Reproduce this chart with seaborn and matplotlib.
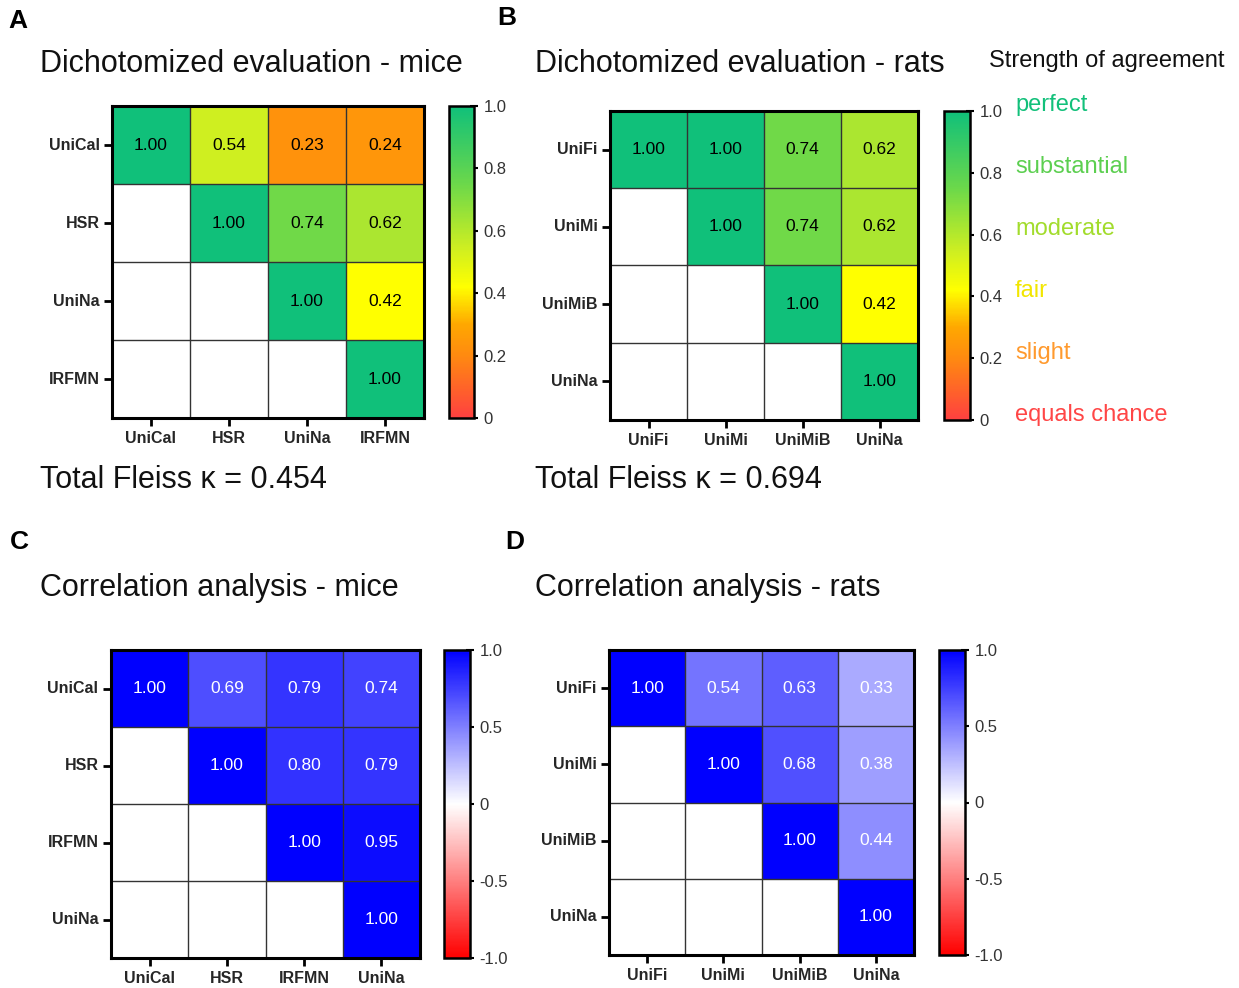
import matplotlib
matplotlib.use("Agg")
import matplotlib.pyplot as plt
import numpy as np
import pandas as pd
import seaborn as sns
from matplotlib.colors import LinearSegmentedColormap

sns.set_theme(style="white")
plt.rcParams["font.family"] = ["Liberation Sans", "DejaVu Sans"]

# panel data (upper triangle only, lower triangle left empty)
mice_kappa_labels = ["UniCal", "HSR", "UniNa", "IRFMN"]
mice_kappa = [
    [1.00, 0.54, 0.23, 0.24],
    [np.nan, 1.00, 0.74, 0.62],
    [np.nan, np.nan, 1.00, 0.42],
    [np.nan, np.nan, np.nan, 1.00],
]
rats_kappa_labels = ["UniFi", "UniMi", "UniMiB", "UniNa"]
rats_kappa = [
    [1.00, 1.00, 0.74, 0.62],
    [np.nan, 1.00, 0.74, 0.62],
    [np.nan, np.nan, 1.00, 0.42],
    [np.nan, np.nan, np.nan, 1.00],
]
mice_corr_labels = ["UniCal", "HSR", "IRFMN", "UniNa"]
mice_corr = [
    [1.00, 0.69, 0.79, 0.74],
    [np.nan, 1.00, 0.80, 0.79],
    [np.nan, np.nan, 1.00, 0.95],
    [np.nan, np.nan, np.nan, 1.00],
]
rats_corr_labels = ["UniFi", "UniMi", "UniMiB", "UniNa"]
rats_corr = [
    [1.00, 0.54, 0.63, 0.33],
    [np.nan, 1.00, 0.68, 0.38],
    [np.nan, np.nan, 1.00, 0.44],
    [np.nan, np.nan, np.nan, 1.00],
]
fleiss_mice = 0.454
fleiss_rats = 0.694

agreement_labels = ["perfect", "substantial", "moderate", "fair", "slight", "equals chance"]
agreement_colors = ["#12c07a", "#5ccf50", "#a2dc2c", "#f2e600", "#ff9a2e", "#ff4646"]

kappa_cmap = LinearSegmentedColormap.from_list(
    "kappa",
    [(0.0, "#ff4040"), (0.2, "#ff8a10"), (0.3, "#ffa800"), (0.42, "#ffff00"),
     (0.55, "#ccee22"), (0.75, "#6cd84a"), (1.0, "#10c07a")],
)
corr_cmap = LinearSegmentedColormap.from_list(
    "corr", [(0.0, "#ff0000"), (0.5, "#ffffff"), (1.0, "#0000ff")]
)

W, H = 1239, 988
fig = plt.figure(figsize=(W / 100, H / 100), dpi=100)


def box(x0, y0, x1, y1):
    return [x0 / W, 1 - y1 / H, (x1 - x0) / W, (y1 - y0) / H]


def draw_panel(values, labels, hm_box, cb_box, cmap, vmin, vmax, ticks, ticklabels, text_color):
    ax = fig.add_axes(box(*hm_box))
    cax = fig.add_axes(box(*cb_box))
    df = pd.DataFrame(values, index=labels, columns=labels)
    sns.heatmap(df, ax=ax, cbar_ax=cax, cmap=cmap, vmin=vmin, vmax=vmax,
                annot=True, fmt=".2f", square=False,
                annot_kws={"fontsize": 12.5, "color": text_color})
    n = len(labels)
    ax.hlines(range(1, n), 0, n, color="#333333", lw=1)
    ax.vlines(range(1, n), 0, n, color="#333333", lw=1)
    for s in ax.spines.values():
        s.set_visible(True)
        s.set_linewidth(2.2)
        s.set_color("black")
    ax.tick_params(axis="both", length=6, width=2, color="black", left=True, bottom=True,
                   labelsize=11.5, pad=3)
    ax.set_xticklabels(labels, rotation=0, fontweight="bold")
    ax.set_yticklabels(labels, rotation=0, fontweight="bold")
    ax.set_xlabel("")
    ax.set_ylabel("")
    cb = ax.collections[0].colorbar
    cb.set_ticks(ticks)
    cb.set_ticklabels(ticklabels)
    cb.outline.set_visible(True)
    cb.outline.set_linewidth(1.8)
    cb.outline.set_edgecolor("black")
    cax.tick_params(axis="y", direction="inout", length=6, width=1.5, labelsize=12,
                    colors="black", pad=4)
    for t in cax.get_yticklabels():
        t.set_color("#333333")
    return ax


kappa_ticks = [0, 0.2, 0.4, 0.6, 0.8, 1.0]
kappa_ticklabels = ["0", "0.2", "0.4", "0.6", "0.8", "1.0"]
corr_ticks = [-1.0, -0.5, 0, 0.5, 1.0]
corr_ticklabels = ["-1.0", "-0.5", "0", "0.5", "1.0"]

draw_panel(mice_kappa, mice_kappa_labels, (112, 106, 424, 418), (449, 106, 474, 418),
           kappa_cmap, 0, 1, kappa_ticks, kappa_ticklabels, "black")
draw_panel(rats_kappa, rats_kappa_labels, (610, 111, 918, 420), (944, 111, 970, 420),
           kappa_cmap, 0, 1, kappa_ticks, kappa_ticklabels, "black")
draw_panel(mice_corr, mice_corr_labels, (111, 650, 420, 958), (444, 650, 470, 958),
           corr_cmap, -1, 1, corr_ticks, corr_ticklabels, "white")
draw_panel(rats_corr, rats_corr_labels, (609, 650, 914, 955), (939, 650, 965, 955),
           corr_cmap, -1, 1, corr_ticks, corr_ticklabels, "white")


def ftext(x, y, s, **kw):
    fig.text(x / W, 1 - y / H, s, va="center", ha="left", **kw)


# panel letters
for letter, x, y in [("A", 8, 21), ("B", 497, 18), ("C", 10, 542), ("D", 505, 542)]:
    ftext(x, y, letter, fontsize=19, fontweight="bold", color="black")

# titles and totals
ftext(40, 64, "Dichotomized evaluation - mice", fontsize=22, color="#111111")
ftext(535, 64, "Dichotomized evaluation - rats", fontsize=22, color="#111111")
ftext(40, 588, "Correlation analysis - mice", fontsize=22, color="#111111")
ftext(535, 588, "Correlation analysis - rats", fontsize=22, color="#111111")
ftext(40, 480, f"Total Fleiss \u03ba = {fleiss_mice:.3f}", fontsize=22, color="#111111")
ftext(535, 480, f"Total Fleiss \u03ba = {fleiss_rats:.3f}", fontsize=22, color="#111111")

# strength of agreement legend
ftext(989, 61, "Strength of agreement", fontsize=17, color="#111111")
for i, (lab, col) in enumerate(zip(agreement_labels, agreement_colors)):
    ftext(1015, 105 + i * 62, lab, fontsize=17, color=col)

fig.savefig("out.png", dpi=100)
